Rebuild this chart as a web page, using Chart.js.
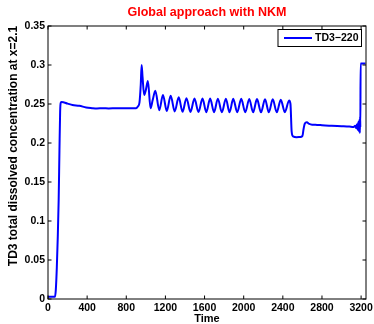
<!DOCTYPE html>
<html lang="en">
<head>
<meta charset="UTF-8">
<title>Global approach with NKM</title>
<script src="https://cdn.jsdelivr.net/npm/chart.js"></script>
<style>
  html, body { margin: 0; padding: 0; background: #fff; }
  #wrap { width: 374px; height: 324px; }
</style>
</head>
<body>
<div id="wrap"><canvas id="grafik" width="374" height="324"></canvas></div>
<script>
// time axis values (s) and TD3 concentration
var zaman = [0, 72, 80, 90, 100, 109, 117, 124, 130, 140, 200, 250, 320, 390, 450, 500, 560, 620, 700, 780, 850, 900,
  920, 935, 948, 957, 966, 983, 1000, 1021, 1048, 1070, 1097, 1137, 1175, 1214, 1254, 1295, 1336, 1375, 1415, 1456,
  1497, 1538, 1579, 1618, 1657, 1697, 1736, 1777, 1818, 1855, 1893, 1934, 1975, 2016, 2057, 2096, 2136, 2177, 2218,
  2257, 2297, 2338, 2379, 2421, 2464, 2478, 2490, 2505, 2540, 2575, 2600, 2612, 2625, 2645, 2670, 2700, 2750, 2800,
  2900, 3000, 3080, 3120, 3140, 3150, 3158, 3165, 3172, 3178, 3183, 3187, 3190, 3192, 3195, 3245];
var td3 = [0.003, 0.003, 0.012, 0.04, 0.08, 0.127, 0.19, 0.24, 0.2515, 0.2525, 0.2505, 0.2487, 0.2478, 0.2455, 0.2447, 0.2443, 0.2445, 0.2443, 0.2445, 0.2444, 0.2445, 0.2447,
  0.247, 0.252, 0.275, 0.300, 0.285, 0.2615, 0.268, 0.2795, 0.2445, 0.255, 0.267, 0.242, 0.2615, 0.241, 0.2606,
  0.2405, 0.2585, 0.240, 0.2575, 0.2398, 0.257, 0.2396, 0.257, 0.2395, 0.257, 0.2395, 0.2568, 0.2394, 0.2568,
  0.2394, 0.2566, 0.2394, 0.2566, 0.2393, 0.2565, 0.2393, 0.2563, 0.2393, 0.2562, 0.2393, 0.256, 0.2393, 0.2555,
  0.2395, 0.2545, 0.250, 0.215, 0.2085, 0.2075, 0.2078, 0.209, 0.218, 0.225, 0.2265, 0.2245, 0.2235, 0.2232, 0.2228,
  0.222, 0.2215, 0.221, 0.2205, 0.222, 0.219, 0.224, 0.217, 0.227, 0.215, 0.230, 0.213, 0.234, 0.220, 0.302, 0.302];

var xTikler = [0, 400, 800, 1200, 1600, 2000, 2400, 2800, 3200];
var yTikler = [0, 0.05, 0.1, 0.15, 0.2, 0.25, 0.3, 0.35];

var seriAdi = 'TD3\u2212220';
var baslik = 'Global approach with NKM';
var xBaslik = 'Time';
var yBaslik = 'TD3 total dissolved concentration at x=2.1';

var yazi = 'Liberation Sans, Arial, Helvetica, sans-serif';

// frame, inward ticks on all sides, legend box and rotated y label (MATLAB look)
var cerceve = {
  id: 'cerceve',
  afterDatasetsDraw: function (chart) {
    var c = chart.ctx, a = chart.chartArea;
    var xs = chart.scales.x, ys = chart.scales.y;
    var L = 3.5;
    c.save();
    c.strokeStyle = '#000';
    c.lineWidth = 1;
    c.strokeRect(a.left, a.top, a.right - a.left, a.bottom - a.top);
    c.beginPath();
    xTikler.forEach(function (v) {
      var p = xs.getPixelForValue(v);
      c.moveTo(p, a.bottom); c.lineTo(p, a.bottom - L);
      c.moveTo(p, a.top); c.lineTo(p, a.top + L);
    });
    yTikler.forEach(function (v) {
      var p = ys.getPixelForValue(v);
      c.moveTo(a.left, p); c.lineTo(a.left + L, p);
      c.moveTo(a.right, p); c.lineTo(a.right - L, p);
    });
    c.stroke();

    // legend
    var bx = 278, by = 29.5, bw = 83.5, bh = 17;
    c.fillStyle = '#fff';
    c.fillRect(bx, by, bw, bh);
    c.strokeRect(bx, by, bw, bh);
    c.strokeStyle = '#0000ff';
    c.lineWidth = 2;
    c.beginPath();
    c.moveTo(284, by + bh / 2); c.lineTo(312, by + bh / 2);
    c.stroke();
    c.fillStyle = '#000';
    c.font = 'bold 10.5px ' + yazi;
    c.textAlign = 'left';
    c.textBaseline = 'middle';
    c.fillText(seriAdi, 315, by + bh / 2 + 0.5);

    // y label
    c.translate(13.5, 146);
    c.rotate(-Math.PI / 2);
    c.font = 'bold 12px ' + yazi;
    c.textAlign = 'center';
    c.fillText(yBaslik, 0, 0);
    c.restore();
  }
};

var noktalar = zaman.map(function (t, i) { return { x: t, y: td3[i] }; });

new Chart(document.getElementById('grafik').getContext('2d'), {
  type: 'line',
  data: {
    datasets: [{
      label: seriAdi,
      data: noktalar,
      borderColor: '#0000ff',
      borderWidth: 2,
      pointRadius: 0,
      cubicInterpolationMode: 'monotone',
      fill: false
    }]
  },
  options: {
    responsive: false,
    animation: false,
    layout: { padding: { left: 0, right: 8, top: 0, bottom: 0 } },
    plugins: {
      legend: { display: false },
      tooltip: { enabled: false },
      title: {
        display: true,
        text: baslik,
        color: '#ff0000',
        fullSize: false,
        font: { family: yazi, size: 12.5, weight: 'bold', lineHeight: 1.2 },
        padding: { top: 5, bottom: 6 }
      }
    },
    scales: {
      x: {
        type: 'linear',
        min: 0,
        max: 3250,
        grid: { display: false, drawTicks: false },
        border: { display: false },
        afterBuildTicks: function (s) { s.ticks = xTikler.map(function (v) { return { value: v }; }); },
        afterFit: function (s) { s.height = 25; s.paddingLeft = 0; s.paddingRight = 0; },
        ticks: {
          color: '#000',
          padding: 3,
          maxRotation: 0,
          font: { family: yazi, size: 10.5, weight: 'bold' },
          callback: function (v) { return String(v); }
        },
        title: {
          display: true,
          text: xBaslik,
          color: '#000',
          padding: { top: 0, bottom: 0 },
          font: { family: yazi, size: 11, weight: 'bold', lineHeight: 1 }
        }
      },
      y: {
        type: 'linear',
        min: 0,
        max: 0.35,
        grid: { display: false, drawTicks: false },
        border: { display: false },
        afterBuildTicks: function (s) { s.ticks = yTikler.map(function (v) { return { value: v }; }); },
        afterFit: function (s) { s.width = 48; s.paddingTop = 0; s.paddingBottom = 0; },
        ticks: {
          color: '#000',
          padding: 3,
          font: { family: yazi, size: 10.5, weight: 'bold' },
          callback: function (v) { return String(v); }
        }
      }
    }
  },
  plugins: [cerceve]
});
</script>
</body>
</html>
